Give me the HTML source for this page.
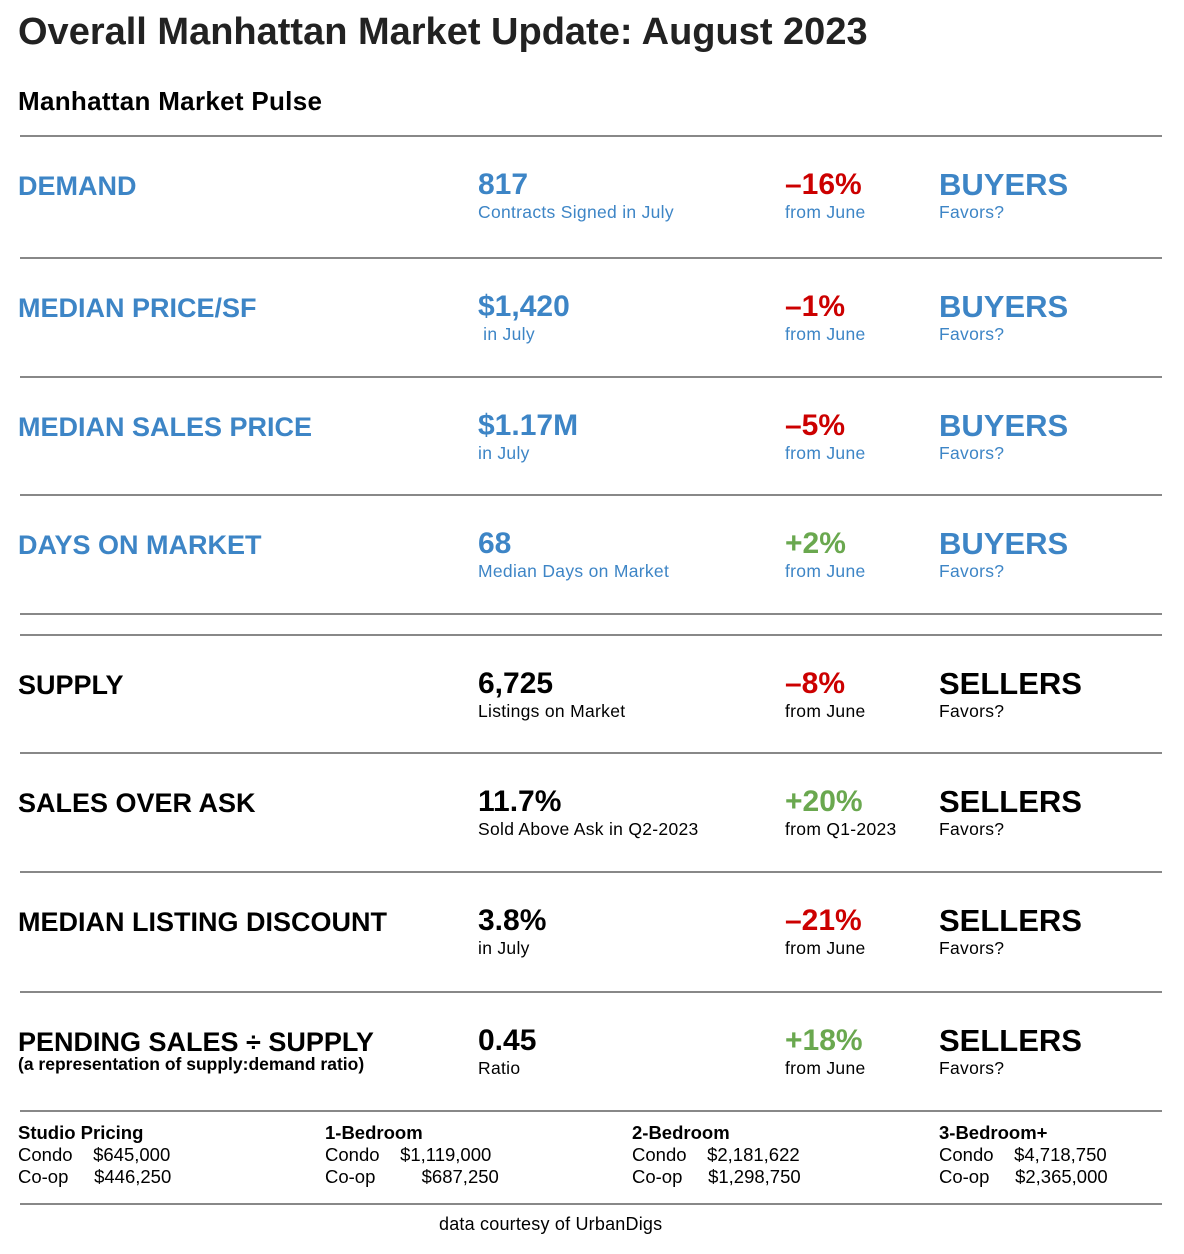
<!DOCTYPE html>
<html><head><meta charset="utf-8"><style>
body{margin:0;width:1184px;height:1254px;background:#fff;position:relative;font-family:"Liberation Sans",Arial,sans-serif;color:#000;overflow:hidden}
.a{position:absolute;white-space:nowrap;line-height:1}
.hr{position:absolute;left:20px;width:1142px;height:2px;background:#888}
.lab{font-weight:bold;font-size:27px}
.val{font-weight:bold;font-size:30px}
.sub{font-size:17.5px;letter-spacing:0.3px}
.b{color:#3d85c6}.r{color:#cc0000}.g{color:#6aa84f}
.fav{font-weight:bold;font-size:31px}
.sm{font-size:18.5px;line-height:22px}
</style></head><body>
<div class="a" style="left:18px;top:13px;font-size:38px;font-weight:bold;color:#222">Overall Manhattan Market Update: August 2023</div>
<div class="a" style="left:18px;top:88px;font-size:26px;font-weight:bold;letter-spacing:0.3px">Manhattan Market Pulse</div>
<div id="rows"></div>
<div class="hr" style="top:1110px"></div>
<div class="a sm" style="left:18px;top:1122px"><b>Studio Pricing</b><br>Condo&nbsp;&nbsp;&nbsp;&nbsp;$645,000<br>Co-op&nbsp;&nbsp;&nbsp;&nbsp;&nbsp;$446,250</div>
<div class="a sm" style="left:325px;top:1122px"><b>1-Bedroom</b><br>Condo&nbsp;&nbsp;&nbsp;&nbsp;$1,119,000<br>Co-op&nbsp;&nbsp;&nbsp;&nbsp;&nbsp;&nbsp;&nbsp;&nbsp;&nbsp;$687,250</div>
<div class="a sm" style="left:632px;top:1122px"><b>2-Bedroom</b><br>Condo&nbsp;&nbsp;&nbsp;&nbsp;$2,181,622<br>Co-op&nbsp;&nbsp;&nbsp;&nbsp;&nbsp;$1,298,750</div>
<div class="a sm" style="left:939px;top:1122px"><b>3-Bedroom+</b><br>Condo&nbsp;&nbsp;&nbsp;&nbsp;$4,718,750<br>Co-op&nbsp;&nbsp;&nbsp;&nbsp;&nbsp;$2,365,000</div>
<div class="hr" style="top:1203px"></div>
<div class="a" style="left:439px;top:1215px;font-size:18px;letter-spacing:0.2px">data courtesy of UrbanDigs</div>
<script>
const labels=["DEMAND","MEDIAN PRICE/SF","MEDIAN SALES PRICE","DAYS ON MARKET","SUPPLY","SALES OVER ASK","MEDIAN LISTING DISCOUNT","PENDING SALES \u00F7 SUPPLY"];
const values=["817","$1,420","$1.17M","68","6,725","11.7%","3.8%","0.45"];
const subs=["Contracts Signed  in July","&nbsp;in July","in July","Median Days on Market","Listings on Market","Sold Above Ask in Q2-2023","in July","Ratio"];
const changes=["\u201316%","\u20131%","\u20135%","+2%","\u20138%","+20%","\u201321%","+18%"];
const froms=["from June","from June","from June","from June","from June","from Q1-2023","from June","from June"];
const favors=["BUYERS","BUYERS","BUYERS","BUYERS","SELLERS","SELLERS","SELLERS","SELLERS"];
const tops=[135,257,376,494,634,752,871,991];
const root=document.getElementById('rows');
function mk(cls,left,top,html,name){const d=document.createElement('div');d.className='a '+cls;d.style.left=left+'px';d.style.top=top+'px';d.innerHTML=html;


root.appendChild(d);return d;}
tops.forEach((T,i)=>{
 const hr=document.createElement('div');hr.className='hr';hr.style.top=T+'px';
 
 
 root.appendChild(hr);
 const blue=i<4?' b':'';
 mk('lab'+blue,18,T+38,labels[i],'metric-label');
 if(i==7) mk('',18,T+65,'<b style="font-size:17.5px">(a representation of supply:demand ratio)</b>','metric-note');
 mk('val'+blue,478,T+35,values[i],'metric-value');
 mk('sub'+blue,478,T+69,subs[i],'metric-subtext');
 const c=changes[i][0]=='+'?' g':' r';
 mk('val'+c,785,T+35,changes[i],'metric-change');
 mk('sub'+blue,785,T+69,froms[i],'change-period');
 mk('fav'+blue,939,T+34,favors[i],'favors-side');
 mk('sub'+blue,939,T+69,'Favors?','favors-label');
});
[613].forEach(t=>{const hr=document.createElement('div');hr.className='hr';hr.style.top=t+'px';


root.appendChild(hr);});
</script>
</body></html>
